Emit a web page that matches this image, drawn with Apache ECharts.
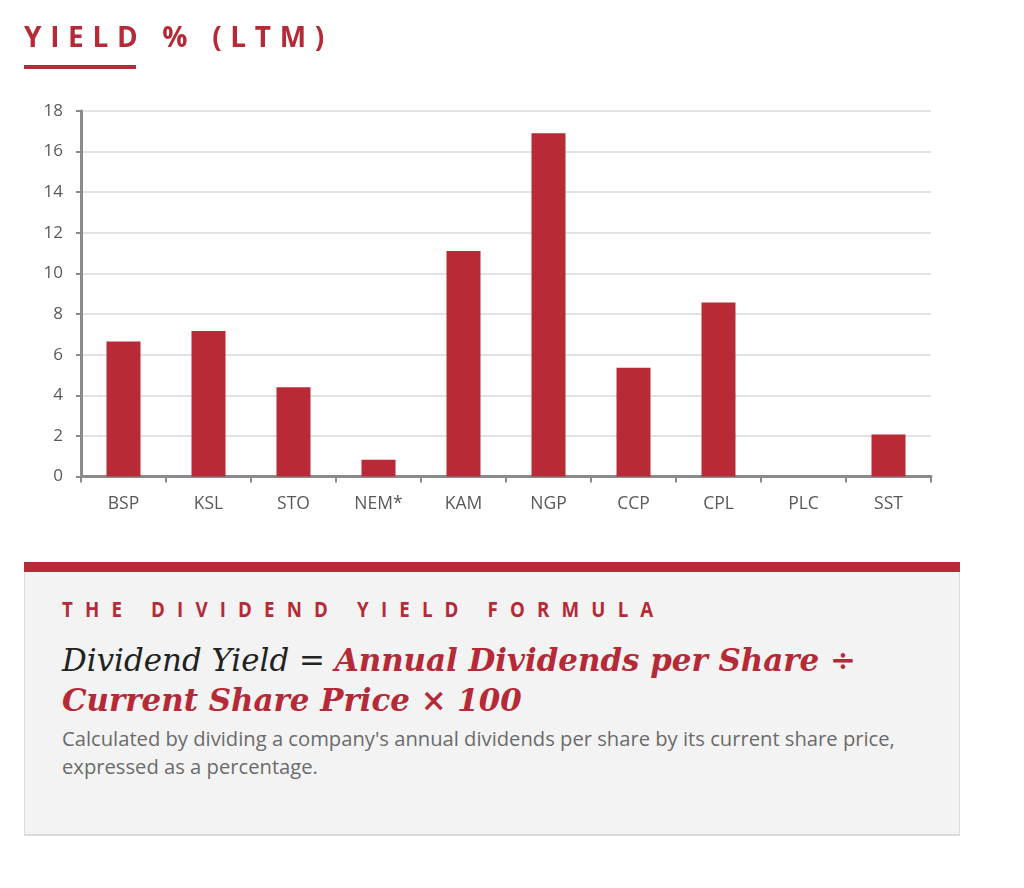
<!DOCTYPE html>
<html>
<head>
<meta charset="utf-8">
<script src="https://cdn.jsdelivr.net/npm/echarts@6/dist/echarts.min.js"></script>
<style>
  html, body { margin:0; padding:0; background:#fff; }
  #page { position:relative; width:1024px; height:888px; overflow:hidden; }
  #chart { position:absolute; left:0; top:0; width:1024px; height:888px; }
  .title { position:absolute; left:24px; top:17px; font-family:"Open Sans", sans-serif; font-weight:700;
           font-size:28px; letter-spacing:0.31em; color:#b52a36; line-height:38px; white-space:nowrap; }
  .uline { position:absolute; left:24px; top:65px; width:112px; height:4px; background:#b52a36; }
  .boxbar { position:absolute; left:24px; top:562px; width:936px; height:10px; background:#b52a36; }
  .box { position:absolute; left:24px; top:572px; width:934px; height:262px; background:#f3f3f3;
         border-left:1px solid #dadada; border-right:1px solid #dadada; border-bottom:2px solid #dadada; }
  .sub { position:absolute; left:62px; top:593px; font-family:"Open Sans", sans-serif; font-weight:700;
         font-size:22px; letter-spacing:0.65em; color:#b52a36; line-height:30px; white-space:nowrap; transform:scaleX(0.85); transform-origin:left; }
  .f1, .f2 { position:absolute; left:62px; font-family:"DejaVu Serif", serif; font-style:italic;
         font-size:30.9px; line-height:40px; white-space:nowrap; }
  .f1 { top:640px; }
  .f2 { top:680px; }
  .dk { color:#222; font-weight:400; }
  .rd { color:#b52a36; font-weight:700; }
  .d1, .d2 { position:absolute; left:62px; font-family:"Open Sans", sans-serif; font-size:20.2px; color:#6b6b6b;
         line-height:28px; white-space:nowrap; }
  .d1 { top:724px; }
  .d2 { top:752px; }
</style>
</head>
<body>
<div id="page">
  <div id="chart"></div>
  <div class="title">YIELD % (LTM)</div>
  <div class="uline"></div>
  <div class="boxbar"></div>
  <div class="box"></div>
  <div class="sub">THE DIVIDEND YIELD FORMULA</div>
  <div class="f1"><span class="dk">Dividend Yield = </span><span class="rd">Annual Dividends per Share ÷</span></div>
  <div class="f2"><span class="rd">Current Share Price × 100</span></div>
  <div class="d1">Calculated by dividing a company's annual dividends per share by its current share price,</div>
  <div class="d2">expressed as a percentage.</div>
</div>
<script>
const categories = ["BSP", "KSL", "STO", "NEM*", "KAM", "NGP", "CCP", "CPL", "PLC", "SST"];
const yieldValues = [6.65, 7.16, 4.4, 0.83, 11.1, 16.9, 5.36, 8.57, 0, 2.07];
const yTicks = [0, 2, 4, 6, 8, 10, 12, 14, 16, 18];

const chart = echarts.init(document.getElementById('chart'));
chart.setOption({
  animation: false,
  grid: { left: 81, right: 93, top: 111, bottom: 411.5, containLabel: false },
  xAxis: {
    type: 'category',
    data: categories,
    axisLine: { lineStyle: { color: '#8a8a8a', width: 3 } },
    axisTick: { show: true, length: 6, lineStyle: { color: '#8a8a8a', width: 2 } },
    axisLabel: { color: '#595959', fontFamily: 'Open Sans', fontSize: 17.5, margin: 19 }
  },
  yAxis: {
    type: 'value',
    min: yTicks[0],
    max: yTicks[yTicks.length - 1],
    interval: 2,
    axisLine: { show: true, lineStyle: { color: '#8a8a8a', width: 3 } },
    axisTick: { show: true, length: 5, lineStyle: { color: '#8a8a8a', width: 2 } },
    axisLabel: { color: '#595959', fontFamily: 'Open Sans', fontSize: 17, margin: 18 },
    splitLine: { lineStyle: { color: '#d9d9d9', width: 1.5 } }
  },
  series: [{
    type: 'bar',
    data: yieldValues,
    barWidth: 34,
    itemStyle: { color: '#b72a36' }
  }]
});
</script>
</body>
</html>
